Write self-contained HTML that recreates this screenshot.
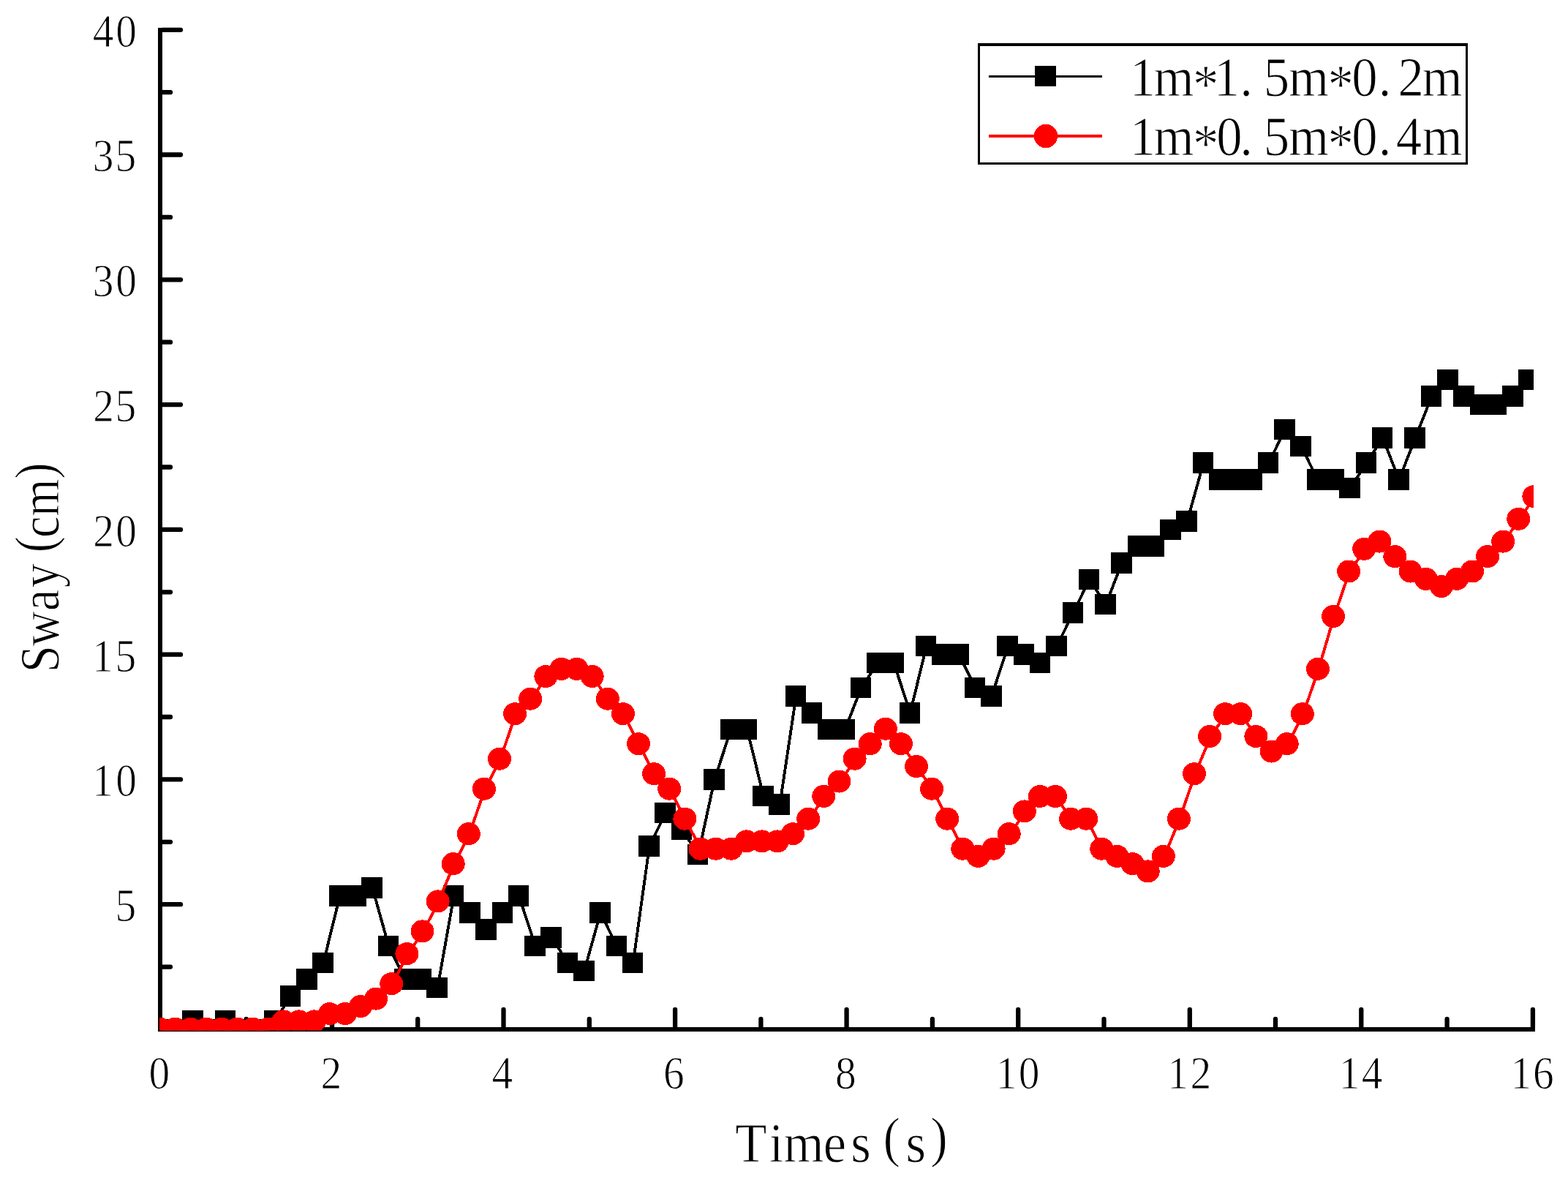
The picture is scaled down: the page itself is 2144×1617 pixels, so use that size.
<!DOCTYPE html>
<html lang="en">
<head>
<meta charset="utf-8">
<title>Sway(cm) Times(s)</title>
<style>
html,body{margin:0;padding:0;background:#fff;}
body{width:2144px;height:1617px;overflow:hidden;}
svg{display:block;}
text{font-family:"Liberation Serif",serif;fill:#000;stroke:#fff;stroke-width:1px;paint-order:fill stroke;}
.tick{font-size:62.5px;}
.big{font-size:77px;}
</style>
</head>
<body>
<svg width="2144" height="1617" viewBox="0 0 2144 1617">
<rect x="0" y="0" width="2144" height="1617" fill="#fff"/>
<defs><clipPath id="plot"><rect x="218" y="38" width="1879" height="1370.5"/></clipPath></defs>
<g id="axes" stroke="#000" fill="none" shape-rendering="crispEdges">
<line x1="219" y1="37.5" x2="219" y2="1410" stroke-width="6"/>
<line x1="216" y1="1407" x2="2098.5" y2="1407" stroke-width="6"/>
</g>
<g id="ticks" stroke="#000" stroke-width="6.3" stroke-linecap="round" fill="none">
<line x1="336.7" y1="1403.7" x2="336.7" y2="1393"/>
<line x1="454" y1="1403.7" x2="454" y2="1380"/>
<line x1="571.2" y1="1403.7" x2="571.2" y2="1393"/>
<line x1="688.5" y1="1403.7" x2="688.5" y2="1380"/>
<line x1="805.8" y1="1403.7" x2="805.8" y2="1393"/>
<line x1="923.1" y1="1403.7" x2="923.1" y2="1380"/>
<line x1="1040.4" y1="1403.7" x2="1040.4" y2="1393"/>
<line x1="1157.6" y1="1403.7" x2="1157.6" y2="1380"/>
<line x1="1274.9" y1="1403.7" x2="1274.9" y2="1393"/>
<line x1="1392.2" y1="1403.7" x2="1392.2" y2="1380"/>
<line x1="1509.5" y1="1403.7" x2="1509.5" y2="1393"/>
<line x1="1626.8" y1="1403.7" x2="1626.8" y2="1380"/>
<line x1="1744" y1="1403.7" x2="1744" y2="1393"/>
<line x1="1861.3" y1="1403.7" x2="1861.3" y2="1380"/>
<line x1="1978.6" y1="1403.7" x2="1978.6" y2="1393"/>
<line x1="2095.9" y1="1403.7" x2="2095.9" y2="1380"/>
<line x1="222.3" y1="1321.6" x2="233" y2="1321.6"/>
<line x1="222.3" y1="1236.2" x2="247" y2="1236.2"/>
<line x1="222.3" y1="1150.8" x2="233" y2="1150.8"/>
<line x1="222.3" y1="1065.4" x2="247" y2="1065.4"/>
<line x1="222.3" y1="980" x2="233" y2="980"/>
<line x1="222.3" y1="894.7" x2="247" y2="894.7"/>
<line x1="222.3" y1="809.3" x2="233" y2="809.3"/>
<line x1="222.3" y1="723.9" x2="247" y2="723.9"/>
<line x1="222.3" y1="638.5" x2="233" y2="638.5"/>
<line x1="222.3" y1="553.1" x2="247" y2="553.1"/>
<line x1="222.3" y1="467.7" x2="233" y2="467.7"/>
<line x1="222.3" y1="382.3" x2="247" y2="382.3"/>
<line x1="222.3" y1="296.9" x2="233" y2="296.9"/>
<line x1="222.3" y1="211.5" x2="247" y2="211.5"/>
<line x1="222.3" y1="126.2" x2="233" y2="126.2"/>
<line x1="222.3" y1="40.8" x2="247" y2="40.8"/>
</g>
<g id="xlabels" class="tick">
<text transform="scale(0.92,1)" x="221.3" y="1487.7">0</text>
<text transform="scale(0.92,1)" x="476.6" y="1487.7">2</text>
<text transform="scale(0.92,1)" x="731.1" y="1487.7">4</text>
<text transform="scale(0.92,1)" x="985.8" y="1487.7">6</text>
<text transform="scale(0.92,1)" x="1241.2" y="1487.7">8</text>
<text transform="scale(0.92,1)" x="1480.1 1513.8" y="1487.7">10</text>
<text transform="scale(0.92,1)" x="1735.1 1769.1" y="1487.7">12</text>
<text transform="scale(0.92,1)" x="1990 2023.6" y="1487.7">14</text>
<text transform="scale(0.92,1)" x="2245 2278.3" y="1487.7">16</text>
</g>
<g id="ylabels" class="tick">
<text transform="scale(0.92,1)" x="171.3" y="1259.1">5</text>
<text transform="scale(0.92,1)" x="137.1 171.9" y="1088.3">10</text>
<text transform="scale(0.92,1)" x="137.1 171.3" y="917.6">15</text>
<text transform="scale(0.92,1)" x="138.3 171.9" y="746.8">20</text>
<text transform="scale(0.92,1)" x="138.3 171.3" y="576">25</text>
<text transform="scale(0.92,1)" x="137.7 171.9" y="405.2">30</text>
<text transform="scale(0.92,1)" x="137.7 171.3" y="234.4">35</text>
<text transform="scale(0.92,1)" x="137.8 171.9" y="63.7">40</text>
</g>
<text class="big" transform="scale(0.92,1)" x="1092.6 1143.1 1164.7 1223.6 1264.3 1312.4 1346.2 1382.8" y="1588 1588 1588 1588 1588 1580.5 1588 1580.5">Times(s)</text>
<text class="big" transform="translate(80.3,0) rotate(-90) scale(0.86,1)" x="-1068.5 -1027.1 -971 -934.1 -878.3 -854.6 -820.9 -761.2" y="0 0 0 0 -7.5 0 0 -7.5">Sway(cm)</text>
<g id="data" clip-path="url(#plot)">
<g id="series-black" fill="#000" stroke="none" shape-rendering="crispEdges">
<polyline points="219.5,1407 241.8,1407 264.1,1395.6 286.3,1407 308.6,1395.6 330.9,1407 353.2,1407 375.5,1395.6 397.8,1361.5 420,1338.7 442.3,1315.9 464.6,1224.8 486.9,1224.8 509.2,1213.4 531.5,1293.1 553.7,1338.7 576,1338.7 598.3,1350.1 620.6,1224.8 642.9,1247.6 665.2,1270.4 687.4,1247.6 709.7,1224.8 732,1293.1 754.3,1281.8 776.6,1315.9 798.9,1327.3 821.1,1247.6 843.4,1293.1 865.7,1315.9 888,1156.5 910.3,1111 932.6,1133.8 954.8,1167.9 977.1,1065.4 999.4,997.1 1021.7,997.1 1044,1088.2 1066.3,1099.6 1088.5,951.6 1110.8,974.4 1133.1,997.1 1155.4,997.1 1177.7,940.2 1200,906 1222.2,906 1244.5,974.4 1266.8,883.3 1289.1,894.7 1311.4,894.7 1333.7,940.2 1355.9,951.6 1378.2,883.3 1400.5,894.7 1422.8,906 1445.1,883.3 1467.4,837.7 1489.6,792.2 1511.9,826.3 1534.2,769.4 1556.5,746.7 1578.8,746.7 1601.1,723.9 1623.3,712.5 1645.6,632.8 1667.9,655.6 1690.2,655.6 1712.5,655.6 1734.8,632.8 1757,587.3 1779.3,610 1801.6,655.6 1823.9,655.6 1846.2,667 1868.5,632.8 1890.7,598.6 1913,655.6 1935.3,598.6 1957.6,541.7 1979.9,518.9 2002.2,541.7 2024.4,553.1 2046.7,553.1 2069,541.7 2091.3,518.9" fill="none" stroke="#000" stroke-width="3.9" stroke-linejoin="round"/>
<rect x="204.6" y="1392.6" width="28.5" height="28.5"/>
<rect x="226.9" y="1392.6" width="28.5" height="28.5"/>
<rect x="249.2" y="1381.2" width="28.5" height="28.5"/>
<rect x="271.4" y="1392.6" width="28.5" height="28.5"/>
<rect x="293.7" y="1381.2" width="28.5" height="28.5"/>
<rect x="316" y="1392.6" width="28.5" height="28.5"/>
<rect x="338.3" y="1392.6" width="28.5" height="28.5"/>
<rect x="360.6" y="1381.2" width="28.5" height="28.5"/>
<rect x="382.9" y="1347.1" width="28.5" height="28.5"/>
<rect x="405.1" y="1324.3" width="28.5" height="28.5"/>
<rect x="427.4" y="1301.5" width="28.5" height="28.5"/>
<rect x="449.7" y="1210.4" width="28.5" height="28.5"/>
<rect x="472" y="1210.4" width="28.5" height="28.5"/>
<rect x="494.3" y="1199" width="28.5" height="28.5"/>
<rect x="516.6" y="1278.7" width="28.5" height="28.5"/>
<rect x="538.8" y="1324.3" width="28.5" height="28.5"/>
<rect x="561.1" y="1324.3" width="28.5" height="28.5"/>
<rect x="583.4" y="1335.7" width="28.5" height="28.5"/>
<rect x="605.7" y="1210.4" width="28.5" height="28.5"/>
<rect x="628" y="1233.2" width="28.5" height="28.5"/>
<rect x="650.3" y="1256" width="28.5" height="28.5"/>
<rect x="672.5" y="1233.2" width="28.5" height="28.5"/>
<rect x="694.8" y="1210.4" width="28.5" height="28.5"/>
<rect x="717.1" y="1278.7" width="28.5" height="28.5"/>
<rect x="739.4" y="1267.4" width="28.5" height="28.5"/>
<rect x="761.7" y="1301.5" width="28.5" height="28.5"/>
<rect x="784" y="1312.9" width="28.5" height="28.5"/>
<rect x="806.2" y="1233.2" width="28.5" height="28.5"/>
<rect x="828.5" y="1278.7" width="28.5" height="28.5"/>
<rect x="850.8" y="1301.5" width="28.5" height="28.5"/>
<rect x="873.1" y="1142.1" width="28.5" height="28.5"/>
<rect x="895.4" y="1096.6" width="28.5" height="28.5"/>
<rect x="917.7" y="1119.4" width="28.5" height="28.5"/>
<rect x="939.9" y="1153.5" width="28.5" height="28.5"/>
<rect x="962.2" y="1051" width="28.5" height="28.5"/>
<rect x="984.5" y="982.7" width="28.5" height="28.5"/>
<rect x="1006.8" y="982.7" width="28.5" height="28.5"/>
<rect x="1029.1" y="1073.8" width="28.5" height="28.5"/>
<rect x="1051.4" y="1085.2" width="28.5" height="28.5"/>
<rect x="1073.6" y="937.2" width="28.5" height="28.5"/>
<rect x="1095.9" y="960" width="28.5" height="28.5"/>
<rect x="1118.2" y="982.7" width="28.5" height="28.5"/>
<rect x="1140.5" y="982.7" width="28.5" height="28.5"/>
<rect x="1162.8" y="925.8" width="28.5" height="28.5"/>
<rect x="1185.1" y="891.6" width="28.5" height="28.5"/>
<rect x="1207.3" y="891.6" width="28.5" height="28.5"/>
<rect x="1229.6" y="960" width="28.5" height="28.5"/>
<rect x="1251.9" y="868.9" width="28.5" height="28.5"/>
<rect x="1274.2" y="880.3" width="28.5" height="28.5"/>
<rect x="1296.5" y="880.3" width="28.5" height="28.5"/>
<rect x="1318.8" y="925.8" width="28.5" height="28.5"/>
<rect x="1341" y="937.2" width="28.5" height="28.5"/>
<rect x="1363.3" y="868.9" width="28.5" height="28.5"/>
<rect x="1385.6" y="880.3" width="28.5" height="28.5"/>
<rect x="1407.9" y="891.6" width="28.5" height="28.5"/>
<rect x="1430.2" y="868.9" width="28.5" height="28.5"/>
<rect x="1452.5" y="823.3" width="28.5" height="28.5"/>
<rect x="1474.7" y="777.8" width="28.5" height="28.5"/>
<rect x="1497" y="811.9" width="28.5" height="28.5"/>
<rect x="1519.3" y="755" width="28.5" height="28.5"/>
<rect x="1541.6" y="732.3" width="28.5" height="28.5"/>
<rect x="1563.9" y="732.3" width="28.5" height="28.5"/>
<rect x="1586.2" y="709.5" width="28.5" height="28.5"/>
<rect x="1608.4" y="698.1" width="28.5" height="28.5"/>
<rect x="1630.7" y="618.4" width="28.5" height="28.5"/>
<rect x="1653" y="641.2" width="28.5" height="28.5"/>
<rect x="1675.3" y="641.2" width="28.5" height="28.5"/>
<rect x="1697.6" y="641.2" width="28.5" height="28.5"/>
<rect x="1719.9" y="618.4" width="28.5" height="28.5"/>
<rect x="1742.1" y="572.9" width="28.5" height="28.5"/>
<rect x="1764.4" y="595.6" width="28.5" height="28.5"/>
<rect x="1786.7" y="641.2" width="28.5" height="28.5"/>
<rect x="1809" y="641.2" width="28.5" height="28.5"/>
<rect x="1831.3" y="652.6" width="28.5" height="28.5"/>
<rect x="1853.6" y="618.4" width="28.5" height="28.5"/>
<rect x="1875.8" y="584.2" width="28.5" height="28.5"/>
<rect x="1898.1" y="641.2" width="28.5" height="28.5"/>
<rect x="1920.4" y="584.2" width="28.5" height="28.5"/>
<rect x="1942.7" y="527.3" width="28.5" height="28.5"/>
<rect x="1965" y="504.5" width="28.5" height="28.5"/>
<rect x="1987.3" y="527.3" width="28.5" height="28.5"/>
<rect x="2009.5" y="538.7" width="28.5" height="28.5"/>
<rect x="2031.8" y="538.7" width="28.5" height="28.5"/>
<rect x="2054.1" y="527.3" width="28.5" height="28.5"/>
<rect x="2076.4" y="504.5" width="28.5" height="28.5"/>
</g>
<g id="series-red" fill="#f00" stroke="none" shape-rendering="crispEdges">
<polyline points="219.5,1407 240.6,1407 261.7,1407 282.8,1407 303.9,1407 325.1,1407 346.2,1407 367.3,1407 388.4,1396.8 409.5,1396.8 430.6,1396.8 451.7,1386.5 472.8,1386.5 493.9,1376.3 515,1366 536.2,1345.5 557.3,1304.5 578.4,1273.8 599.5,1232.8 620.6,1181.6 641.7,1140.6 662.8,1079.1 683.9,1038.1 705,976.6 726.1,956.1 747.3,925.4 768.4,915.2 789.5,915.2 810.6,925.4 831.7,956.1 852.8,976.6 873.9,1017.6 895,1058.6 916.1,1079.1 937.3,1120.1 958.4,1161.1 979.5,1161.1 1000.6,1161.1 1021.7,1150.8 1042.8,1150.8 1063.9,1150.8 1085,1140.6 1106.1,1120.1 1127.2,1089.3 1148.4,1068.9 1169.5,1038.1 1190.6,1017.6 1211.7,997.1 1232.8,1017.6 1253.9,1048.4 1275,1079.1 1296.1,1120.1 1317.2,1161.1 1338.4,1171.3 1359.5,1161.1 1380.6,1140.6 1401.7,1109.8 1422.8,1089.3 1443.9,1089.3 1465,1120.1 1486.1,1120.1 1507.2,1161.1 1528.3,1171.3 1549.5,1181.6 1570.6,1191.8 1591.7,1171.3 1612.8,1120.1 1633.9,1058.6 1655,1007.4 1676.1,976.6 1697.2,976.6 1718.3,1007.4 1739.4,1027.9 1760.6,1017.6 1781.7,976.6 1802.8,915.2 1823.9,843.4 1845,781.9 1866.1,751.2 1887.2,741 1908.3,761.5 1929.4,781.9 1950.6,792.2 1971.7,802.4 1992.8,792.2 2013.9,781.9 2035,761.5 2056.1,741 2077.2,710.2 2098.3,679.5" fill="none" stroke="#f00" stroke-width="4" stroke-linejoin="round"/>
<ellipse cx="218.6" cy="1406.1" rx="16" ry="15.5"/>
<ellipse cx="239.7" cy="1406.1" rx="16" ry="15.5"/>
<ellipse cx="260.8" cy="1406.1" rx="16" ry="15.5"/>
<ellipse cx="281.9" cy="1406.1" rx="16" ry="15.5"/>
<ellipse cx="303" cy="1406.1" rx="16" ry="15.5"/>
<ellipse cx="324.2" cy="1406.1" rx="16" ry="15.5"/>
<ellipse cx="345.3" cy="1406.1" rx="16" ry="15.5"/>
<ellipse cx="366.4" cy="1406.1" rx="16" ry="15.5"/>
<ellipse cx="387.5" cy="1395.9" rx="16" ry="15.5"/>
<ellipse cx="408.6" cy="1395.9" rx="16" ry="15.5"/>
<ellipse cx="429.7" cy="1395.9" rx="16" ry="15.5"/>
<ellipse cx="450.8" cy="1385.6" rx="16" ry="15.5"/>
<ellipse cx="471.9" cy="1385.6" rx="16" ry="15.5"/>
<ellipse cx="493" cy="1375.4" rx="16" ry="15.5"/>
<ellipse cx="514.1" cy="1365.1" rx="16" ry="15.5"/>
<ellipse cx="535.3" cy="1344.6" rx="16" ry="15.5"/>
<ellipse cx="556.4" cy="1303.6" rx="16" ry="15.5"/>
<ellipse cx="577.5" cy="1272.9" rx="16" ry="15.5"/>
<ellipse cx="598.6" cy="1231.9" rx="16" ry="15.5"/>
<ellipse cx="619.7" cy="1180.7" rx="16" ry="15.5"/>
<ellipse cx="640.8" cy="1139.7" rx="16" ry="15.5"/>
<ellipse cx="661.9" cy="1078.2" rx="16" ry="15.5"/>
<ellipse cx="683" cy="1037.2" rx="16" ry="15.5"/>
<ellipse cx="704.1" cy="975.7" rx="16" ry="15.5"/>
<ellipse cx="725.2" cy="955.2" rx="16" ry="15.5"/>
<ellipse cx="746.4" cy="924.5" rx="16" ry="15.5"/>
<ellipse cx="767.5" cy="914.3" rx="16" ry="15.5"/>
<ellipse cx="788.6" cy="914.3" rx="16" ry="15.5"/>
<ellipse cx="809.7" cy="924.5" rx="16" ry="15.5"/>
<ellipse cx="830.8" cy="955.2" rx="16" ry="15.5"/>
<ellipse cx="851.9" cy="975.7" rx="16" ry="15.5"/>
<ellipse cx="873" cy="1016.7" rx="16" ry="15.5"/>
<ellipse cx="894.1" cy="1057.7" rx="16" ry="15.5"/>
<ellipse cx="915.2" cy="1078.2" rx="16" ry="15.5"/>
<ellipse cx="936.4" cy="1119.2" rx="16" ry="15.5"/>
<ellipse cx="957.5" cy="1160.2" rx="16" ry="15.5"/>
<ellipse cx="978.6" cy="1160.2" rx="16" ry="15.5"/>
<ellipse cx="999.7" cy="1160.2" rx="16" ry="15.5"/>
<ellipse cx="1020.8" cy="1149.9" rx="16" ry="15.5"/>
<ellipse cx="1041.9" cy="1149.9" rx="16" ry="15.5"/>
<ellipse cx="1063" cy="1149.9" rx="16" ry="15.5"/>
<ellipse cx="1084.1" cy="1139.7" rx="16" ry="15.5"/>
<ellipse cx="1105.2" cy="1119.2" rx="16" ry="15.5"/>
<ellipse cx="1126.3" cy="1088.4" rx="16" ry="15.5"/>
<ellipse cx="1147.5" cy="1068" rx="16" ry="15.5"/>
<ellipse cx="1168.6" cy="1037.2" rx="16" ry="15.5"/>
<ellipse cx="1189.7" cy="1016.7" rx="16" ry="15.5"/>
<ellipse cx="1210.8" cy="996.2" rx="16" ry="15.5"/>
<ellipse cx="1231.9" cy="1016.7" rx="16" ry="15.5"/>
<ellipse cx="1253" cy="1047.5" rx="16" ry="15.5"/>
<ellipse cx="1274.1" cy="1078.2" rx="16" ry="15.5"/>
<ellipse cx="1295.2" cy="1119.2" rx="16" ry="15.5"/>
<ellipse cx="1316.3" cy="1160.2" rx="16" ry="15.5"/>
<ellipse cx="1337.5" cy="1170.4" rx="16" ry="15.5"/>
<ellipse cx="1358.6" cy="1160.2" rx="16" ry="15.5"/>
<ellipse cx="1379.7" cy="1139.7" rx="16" ry="15.5"/>
<ellipse cx="1400.8" cy="1108.9" rx="16" ry="15.5"/>
<ellipse cx="1421.9" cy="1088.4" rx="16" ry="15.5"/>
<ellipse cx="1443" cy="1088.4" rx="16" ry="15.5"/>
<ellipse cx="1464.1" cy="1119.2" rx="16" ry="15.5"/>
<ellipse cx="1485.2" cy="1119.2" rx="16" ry="15.5"/>
<ellipse cx="1506.3" cy="1160.2" rx="16" ry="15.5"/>
<ellipse cx="1527.4" cy="1170.4" rx="16" ry="15.5"/>
<ellipse cx="1548.6" cy="1180.7" rx="16" ry="15.5"/>
<ellipse cx="1569.7" cy="1190.9" rx="16" ry="15.5"/>
<ellipse cx="1590.8" cy="1170.4" rx="16" ry="15.5"/>
<ellipse cx="1611.9" cy="1119.2" rx="16" ry="15.5"/>
<ellipse cx="1633" cy="1057.7" rx="16" ry="15.5"/>
<ellipse cx="1654.1" cy="1006.5" rx="16" ry="15.5"/>
<ellipse cx="1675.2" cy="975.7" rx="16" ry="15.5"/>
<ellipse cx="1696.3" cy="975.7" rx="16" ry="15.5"/>
<ellipse cx="1717.4" cy="1006.5" rx="16" ry="15.5"/>
<ellipse cx="1738.5" cy="1027" rx="16" ry="15.5"/>
<ellipse cx="1759.7" cy="1016.7" rx="16" ry="15.5"/>
<ellipse cx="1780.8" cy="975.7" rx="16" ry="15.5"/>
<ellipse cx="1801.9" cy="914.3" rx="16" ry="15.5"/>
<ellipse cx="1823" cy="842.5" rx="16" ry="15.5"/>
<ellipse cx="1844.1" cy="781" rx="16" ry="15.5"/>
<ellipse cx="1865.2" cy="750.3" rx="16" ry="15.5"/>
<ellipse cx="1886.3" cy="740.1" rx="16" ry="15.5"/>
<ellipse cx="1907.4" cy="760.6" rx="16" ry="15.5"/>
<ellipse cx="1928.5" cy="781" rx="16" ry="15.5"/>
<ellipse cx="1949.7" cy="791.3" rx="16" ry="15.5"/>
<ellipse cx="1970.8" cy="801.5" rx="16" ry="15.5"/>
<ellipse cx="1991.9" cy="791.3" rx="16" ry="15.5"/>
<ellipse cx="2013" cy="781" rx="16" ry="15.5"/>
<ellipse cx="2034.1" cy="760.6" rx="16" ry="15.5"/>
<ellipse cx="2055.2" cy="740.1" rx="16" ry="15.5"/>
<ellipse cx="2076.3" cy="709.3" rx="16" ry="15.5"/>
<ellipse cx="2097.4" cy="678.6" rx="16" ry="15.5"/>
</g>
</g>
<g id="legend">
<rect x="1337" y="59" width="670" height="166" fill="#000" shape-rendering="crispEdges"/>
<rect x="1340" y="63" width="664" height="159" fill="#fff" shape-rendering="crispEdges"/>
<line x1="1352" y1="104.5" x2="1507" y2="104.5" stroke="#000" stroke-width="3" shape-rendering="crispEdges"/>
<rect x="1415" y="90" width="29" height="28" fill="#000" shape-rendering="crispEdges"/>
<line x1="1352" y1="186" x2="1507" y2="186" stroke="#f00" stroke-width="4" shape-rendering="crispEdges"/>
<circle cx="1430" cy="186" r="16.2" fill="#f00" shape-rendering="crispEdges"/>
<text class="big" transform="scale(0.92,1)" x="1679.1 1714.6 1772.8 1804.1 1842.8 1878 1915.1 1973.3 2009 2048.6 2077.7 2113.6" y="131.3 131.3 141.3 131.3 131.3 131.3 131.3 141.3 131.3 131.3 131.3 131.3">1m*1.5m*0.2m</text>
<text class="big" transform="scale(0.92,1)" x="1679.1 1714.6 1772.8 1807.9 1842.8 1878 1915.1 1973.3 2009 2048.6 2074.7 2113.6" y="212 212 222 212 212 212 212 222 212 212 212 212">1m*0.5m*0.4m</text>
</g>
</svg>
</body>
</html>
